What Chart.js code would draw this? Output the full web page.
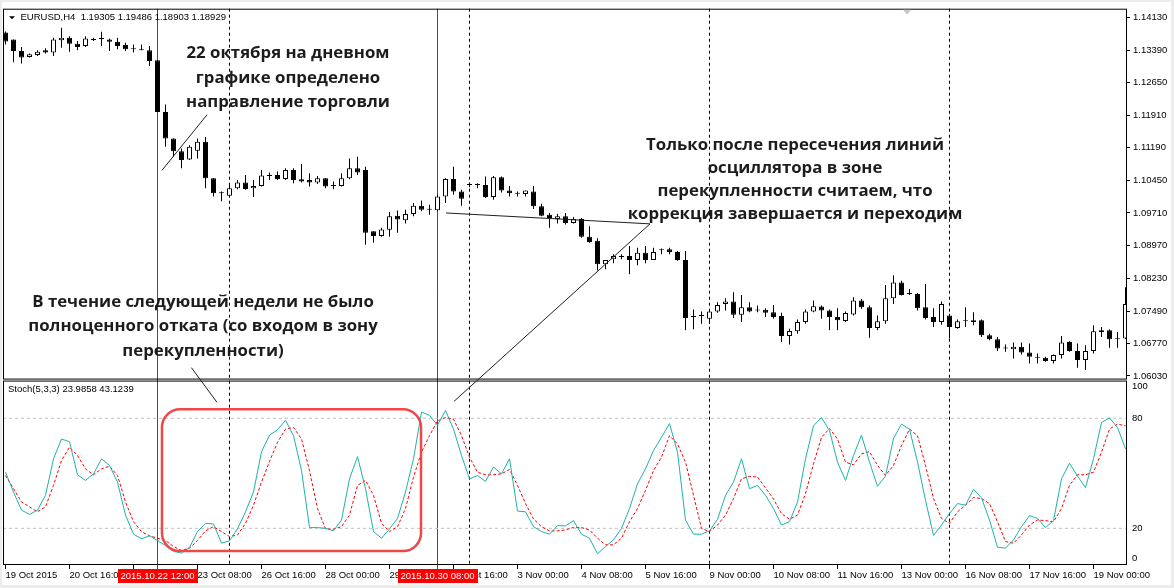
<!DOCTYPE html>
<html>
<head>
<meta charset="utf-8">
<title>EURUSD H4 + Stoch</title>
<script src="https://cdn.jsdelivr.net/npm/chart.js@4.4.1/dist/chart.umd.min.js"></script>
<style>
  html, body { margin: 0; padding: 0; background: #fff; }
  #wrap { width: 1174px; height: 588px; }
</style>
</head>
<body>
<div id="wrap"><canvas id="chart" width="1174" height="588"></canvas></div>
<script>
// ==============================================================
//  EURUSD H4 bars (19 Oct 2015 08:00 -> 19 Nov 2015 16:00)
// ==============================================================

const openP = [
  1.13787, 1.13630, 1.13368, 1.13234, 1.13278, 1.13384, 1.13332, 1.13614, 1.13668, 1.13534,
  1.13480, 1.13625, 1.13641, 1.13630, 1.13578, 1.13502, 1.13428, 1.13384, 1.13384, 1.13160,
  1.11988, 1.11390, 1.11106, 1.10920, 1.11114, 1.11316, 1.10494, 1.10158, 1.10098, 1.10270,
  1.10398, 1.10270, 1.10322, 1.10554, 1.10568, 1.10478, 1.10680, 1.10472, 1.10456, 1.10398,
  1.10494, 1.10322, 1.10322, 1.10494, 1.10718, 1.10680, 1.09296, 1.09188, 1.09329, 1.09650,
  1.09546, 1.09688, 1.09874, 1.09784, 1.09770, 1.10084, 1.10478, 1.10196, 1.10344, 1.10344,
  1.10344, 1.10068, 1.10516, 1.10218, 1.10142, 1.10136, 1.10196, 1.09860, 1.09672, 1.09576,
  1.09636, 1.09486, 1.09576, 1.09172, 1.09083, 1.08552, 1.08664, 1.08718, 1.08740, 1.08650,
  1.08814, 1.08650, 1.08866, 1.08888, 1.08830, 1.08650, 1.07358, 1.07380, 1.07320, 1.07486,
  1.07656, 1.07710, 1.07410, 1.07582, 1.07508, 1.07522, 1.07470, 1.07380, 1.06932, 1.07038,
  1.07246, 1.07486, 1.07598, 1.07508, 1.07358, 1.07268, 1.07418, 1.07732, 1.07582, 1.07112,
  1.07262, 1.07784, 1.08142, 1.07880, 1.07880, 1.07582, 1.07358, 1.07246, 1.07396, 1.07112,
  1.07262, 1.07284, 1.07284, 1.06948, 1.06858, 1.06648, 1.06634, 1.06686, 1.06558, 1.06440,
  1.06440, 1.06366, 1.06500, 1.06798, 1.06590, 1.06388, 1.06590, 1.07060, 1.07060, 1.06858,
  1.06872
];

const highP = [
  1.13809, 1.13630, 1.13458, 1.13310, 1.13384, 1.13428, 1.13668, 1.13892, 1.13704, 1.13592,
  1.13704, 1.13668, 1.13802, 1.13652, 1.13668, 1.13556, 1.13518, 1.13518, 1.13480, 1.13160,
  1.12158, 1.11390, 1.11166, 1.11240, 1.11390, 1.11428, 1.10494, 1.10196, 1.10344, 1.10456,
  1.10568, 1.10456, 1.10680, 1.10622, 1.10644, 1.10718, 1.10718, 1.10814, 1.10606, 1.10546,
  1.10494, 1.10420, 1.10606, 1.10942, 1.10980, 1.10756, 1.09296, 1.09374, 1.09732, 1.09766,
  1.09784, 1.09934, 1.09994, 1.09896, 1.10120, 1.10494, 1.10756, 1.10232, 1.10398, 1.10382,
  1.10532, 1.10546, 1.10532, 1.10322, 1.10196, 1.10218, 1.10322, 1.09918, 1.09710, 1.09694,
  1.09710, 1.09620, 1.09598, 1.09412, 1.09139, 1.08650, 1.08776, 1.08776, 1.08964, 1.08926,
  1.08964, 1.08926, 1.08910, 1.08926, 1.08852, 1.08852, 1.07530, 1.07486, 1.07508, 1.07694,
  1.07784, 1.07918, 1.07858, 1.07694, 1.07620, 1.07560, 1.07634, 1.07454, 1.07096, 1.07306,
  1.07530, 1.07732, 1.07620, 1.07530, 1.07560, 1.07486, 1.07806, 1.07768, 1.07620, 1.07396,
  1.08082, 1.08306, 1.08180, 1.07992, 1.07902, 1.08104, 1.07560, 1.07710, 1.07432, 1.07306,
  1.07582, 1.07470, 1.07306, 1.06984, 1.06910, 1.06738, 1.06782, 1.06782, 1.06760, 1.06536,
  1.06462, 1.06514, 1.06932, 1.06814, 1.06760, 1.06724, 1.07172, 1.07134, 1.07082, 1.07022,
  1.08030
];

const lowP = [
  1.13518, 1.13115, 1.13086, 1.13220, 1.13256, 1.13310, 1.13256, 1.13444, 1.13354, 1.13384,
  1.13458, 1.13592, 1.13480, 1.13368, 1.13406, 1.13368, 1.13332, 1.13384, 1.13032, 1.11988,
  1.11204, 1.10980, 1.10718, 1.10904, 1.10942, 1.10270, 1.10084, 1.09972, 1.10084, 1.10248,
  1.10232, 1.10068, 1.10308, 1.10456, 1.10456, 1.10456, 1.10382, 1.10398, 1.10308, 1.10366,
  1.10270, 1.10248, 1.10308, 1.10472, 1.10568, 1.08993, 1.09038, 1.09172, 1.09172, 1.09262,
  1.09470, 1.09636, 1.09748, 1.09672, 1.09748, 1.09934, 1.10120, 1.09874, 1.10292, 1.10270,
  1.10046, 1.10008, 1.10174, 1.10084, 1.10084, 1.10084, 1.09800, 1.09636, 1.09374, 1.09470,
  1.09448, 1.09470, 1.09150, 1.09038, 1.08411, 1.08440, 1.08574, 1.08664, 1.08328, 1.08530,
  1.08574, 1.08650, 1.08776, 1.08776, 1.08628, 1.07060, 1.07082, 1.07208, 1.07208, 1.07454,
  1.07508, 1.07336, 1.07246, 1.07470, 1.07470, 1.07358, 1.07320, 1.06798, 1.06738, 1.06984,
  1.07208, 1.07470, 1.07320, 1.07060, 1.07060, 1.07246, 1.07396, 1.07544, 1.06894, 1.07060,
  1.07208, 1.07656, 1.07844, 1.07858, 1.07508, 1.07306, 1.07134, 1.07186, 1.06872, 1.07096,
  1.07134, 1.07172, 1.06910, 1.06836, 1.06590, 1.06574, 1.06424, 1.06514, 1.06312, 1.06312,
  1.06350, 1.06312, 1.06424, 1.06574, 1.06216, 1.06164, 1.06536, 1.06910, 1.06664, 1.06664,
  1.06865
];

const closeP = [
  1.13585, 1.13368, 1.13220, 1.13294, 1.13354, 1.13332, 1.13630, 1.13668, 1.13534, 1.13458,
  1.13652, 1.13615, 1.13641, 1.13578, 1.13480, 1.13406, 1.13406, 1.13384, 1.13144, 1.11988,
  1.11390, 1.11106, 1.10904, 1.11204, 1.11316, 1.10494, 1.10158, 1.10158, 1.10270, 1.10398,
  1.10254, 1.10322, 1.10554, 1.10546, 1.10478, 1.10680, 1.10456, 1.10420, 1.10398, 1.10494,
  1.10308, 1.10322, 1.10494, 1.10718, 1.10622, 1.09262, 1.09188, 1.09336, 1.09636, 1.09564,
  1.09688, 1.09874, 1.09784, 1.09784, 1.10084, 1.10478, 1.10196, 1.10030, 1.10344, 1.10344,
  1.10068, 1.10516, 1.10218, 1.10158, 1.10142, 1.10218, 1.09860, 1.09650, 1.09598, 1.09636,
  1.09486, 1.09576, 1.09172, 1.09054, 1.08552, 1.08650, 1.08740, 1.08718, 1.08650, 1.08814,
  1.08650, 1.08830, 1.08866, 1.08830, 1.08650, 1.07336, 1.07358, 1.07380, 1.07486, 1.07634,
  1.07710, 1.07410, 1.07582, 1.07486, 1.07508, 1.07454, 1.07358, 1.06932, 1.07044, 1.07246,
  1.07486, 1.07604, 1.07508, 1.07358, 1.07284, 1.07448, 1.07732, 1.07582, 1.07112, 1.07262,
  1.07784, 1.08142, 1.07858, 1.07880, 1.07560, 1.07336, 1.07246, 1.07656, 1.07134, 1.07262,
  1.07262, 1.07246, 1.06948, 1.06858, 1.06648, 1.06648, 1.06686, 1.06558, 1.06462, 1.06440,
  1.06366, 1.06500, 1.06782, 1.06590, 1.06388, 1.06590, 1.07038, 1.07022, 1.06858, 1.06858,
  1.07656
];

// Stochastic(5,3,3): main (%K) and signal (%D)
const stochMain = [
  50.6, 39.8, 29.9, 27.6, 29.9, 38.0, 57.9, 68.7, 67.2, 49.2,
  46.1, 49.7, 57.9, 54.3, 45.2, 27.2, 16.8, 14.3, 15.9, 13.3,
  10.6, 7.4, 6.5, 9.6, 18.2, 22.7, 22.4, 11.9, 13.2, 19.7,
  29.0, 39.8, 61.8, 70.8, 73.7, 78.9, 70.5, 51.5, 20.4, 20.4,
  20.0, 18.6, 24.5, 47.0, 59.1, 41.6, 18.2, 14.6, 19.7, 25.4,
  39.8, 57.9, 83.4, 81.6, 76.2, 84.3, 74.1, 59.7, 47.0, 48.8,
  45.6, 53.4, 49.7, 57.9, 29.4, 29.0, 20.9, 18.2, 16.8, 21.5,
  21.3, 24.2, 16.8, 14.6, 6.1, 10.1, 13.7, 20.0, 30.8, 44.3,
  52.4, 62.4, 69.6, 77.1, 61.5, 24.5, 16.8, 16.8, 18.6, 24.9,
  38.0, 45.2, 57.9, 41.6, 43.4, 38.0, 30.8, 21.8, 23.6, 34.4,
  57.9, 75.9, 80.4, 73.2, 56.1, 46.1, 59.7, 70.8, 56.1, 42.9,
  48.5, 69.0, 76.8, 74.1, 56.1, 35.3, 16.1, 21.8, 28.1, 33.5,
  32.6, 41.3, 36.6, 24.5, 9.7, 9.2, 13.7, 20.9, 26.9, 25.4,
  20.4, 24.2, 47.0, 55.5, 48.5, 42.2, 57.9, 77.7, 80.2, 75.0,
  63.3
];

const stochSignal = [
  48.8, 41.6, 34.4, 31.7, 29.0, 31.7, 43.4, 57.0, 64.2, 59.7,
  52.4, 49.2, 52.4, 53.9, 48.8, 34.4, 23.6, 18.2, 15.9, 14.6,
  13.3, 10.1, 7.9, 9.2, 13.3, 18.6, 20.9, 18.2, 15.5, 16.4,
  22.7, 32.6, 45.2, 56.4, 66.9, 74.1, 75.0, 68.7, 51.5, 30.8,
  19.7, 19.5, 20.9, 27.2, 43.4, 46.1, 38.0, 22.7, 18.2, 20.9,
  30.8, 47.9, 61.5, 70.5, 78.6, 80.4, 79.5, 70.5, 58.8, 50.6,
  49.2, 49.2, 49.7, 52.1, 43.4, 33.5, 25.1, 20.9, 18.6, 18.6,
  19.1, 20.5, 20.4, 19.1, 14.6, 11.0, 11.0, 14.6, 23.6, 30.8,
  40.7, 51.5, 58.8, 70.5, 66.0, 56.1, 38.0, 20.0, 18.2, 21.8,
  27.2, 36.2, 47.0, 48.3, 48.0, 42.0, 36.0, 28.0, 25.0, 27.2,
  38.9, 55.2, 69.6, 74.4, 68.7, 56.1, 54.6, 60.6, 61.8, 54.3,
  48.8, 54.3, 65.1, 74.1, 70.5, 54.3, 36.2, 25.4, 22.7, 29.0,
  32.6, 36.8, 36.2, 33.5, 23.6, 12.8, 11.9, 16.4, 21.8, 24.5,
  24.2, 23.6, 30.8, 43.4, 49.2, 49.2, 50.6, 61.5, 74.1, 76.8,
  75.9
];

// time axis: one label every 8 bars
const tickBars = [0, 8, 16, 24, 32, 40, 48, 56, 64, 72, 80, 88, 96, 104, 112, 120, 128, 136];
const tickLabels = [
  "19 Oct 2015", "20 Oct 16:00", "22 Oct 00:00", "23 Oct 08:00", "26 Oct 16:00", "28 Oct 00:00",
  "29 Oct 08:00", "30 Oct 16:00", "3 Nov 00:00", "4 Nov 08:00", "5 Nov 16:00", "9 Nov 00:00",
  "10 Nov 08:00", "11 Nov 16:00", "13 Nov 00:00", "16 Nov 08:00", "17 Nov 16:00", "19 Nov 00:00"
];

const priceTicks = [1.06030, 1.06770, 1.07490, 1.08230, 1.08970, 1.09710,
                    1.10450, 1.11190, 1.11910, 1.12650, 1.13390, 1.14130];
const stochTicks = [100, 80, 20, 0];
const stochLevels = [20, 80];

const markerBars = [19, 54];                       // red vertical lines
const markerLabels = ["2015.10.22 12:00", "2015.10.30 08:00"];
const weekBars = [28, 58, 88, 118];                // Monday 00:00 separators

// hand-drawn notes (anchored on bar index / price)
const noteLines = [
  [19.56, 1.10673, 25.19, 1.11928],
  [55.06, 1.09710, 80.56, 1.09464],
  [80.56, 1.09464, 56.06, 1.05454],
  [23.24, 1.06216, 26.44, 1.05432]
];
const noteBox = { fromBar: 19.56, toBar: 51.94, top: 84.9, bottom: 7.6 };   // on stoch scale
const noteTexts = [
  { bar: 35.31, price: 1.13316, step: 24.5,
    lines: ["22 октября на дневном", "графике определено", "направление торговли"] },
  { bar: 98.69, price: 1.11233, step: 23,
    lines: ["Только после пересечения линий", "осциллятора в зоне",
            "перекупленности считаем, что", "коррекция завершается и переходим"] },
  { bar: 24.69, price: 1.07694, step: 24.5,
    lines: ["В течение следующей недели не было", "полноценного отката (со входом в зону",
            "перекупленности)"] }
];

// ==============================================================
//  Chart
// ==============================================================

const X_MIN = -0.3125;
const X_MAX = 140.1875;
const AXIS_FONT = '9.5px "Liberation Sans", Arial, sans-serif';

const candleFill = openP.map((o, i) => closeP[i] > o ? "#ffffff" : "#000000");
const toPoints = (arr) => arr.map((v, i) => ({ x: i, y: v }));

const mt4Frame = {
  id: "mt4Frame",

  beforeDraw(chart) {
    const { ctx, width, height } = chart;
    ctx.save();
    ctx.fillStyle = "#ffffff";
    ctx.fillRect(0, 0, width, height);
    ctx.fillStyle = "#ececec";
    ctx.fillRect(0, 0, width, 2);
    ctx.fillRect(0, 0, 2, height);
    ctx.fillRect(width - 3, 0, 3, height);
    ctx.fillRect(0, height - 3, width, 3);
    ctx.restore();
  },

  beforeDatasetsDraw(chart) {
    const { ctx, chartArea: a, scales: { x } } = chart;
    ctx.save();
    ctx.lineWidth = 1;

    // week separators
    ctx.strokeStyle = "#000000";
    ctx.setLineDash([3, 3]);
    weekBars.forEach(b => {
      const px = Math.floor(x.getPixelForValue(b)) + 0.5;
      ctx.beginPath();
      ctx.moveTo(px, a.top);
      ctx.lineTo(px, a.bottom);
      ctx.stroke();
    });

    // red vertical lines
    ctx.setLineDash([]);
    ctx.strokeStyle = "#ff0000";
    markerBars.forEach(b => {
      const px = Math.floor(x.getPixelForValue(b)) + 0.5;
      ctx.beginPath();
      ctx.moveTo(px, a.top);
      ctx.lineTo(px, a.bottom + 4);
      ctx.stroke();
    });
    ctx.restore();
  },

  afterDraw(chart) {
    const { ctx, chartArea: a, scales: { x, yP, yS } } = chart;
    ctx.save();

    // pane borders
    ctx.strokeStyle = "#000000";
    ctx.lineWidth = 1;
    ctx.strokeRect(a.left + 0.5, yP.top + 0.5, a.right - a.left - 1, yP.bottom - yP.top - 1);
    ctx.strokeRect(a.left + 0.5, yS.top + 1.5, a.right - a.left - 1, yS.bottom - yS.top - 2);

    // headers
    ctx.font = AXIS_FONT;
    ctx.fillStyle = "#000000";
    ctx.textBaseline = "middle";
    ctx.textAlign = "left";
    ctx.fillText("EURUSD,H4  1.19305 1.19486 1.18903 1.18929", a.left + 17.5, yP.top + 9);
    ctx.beginPath();
    ctx.moveTo(a.left + 6, yP.top + 7.5);
    ctx.lineTo(a.left + 12, yP.top + 7.5);
    ctx.lineTo(a.left + 9, yP.top + 10.5);
    ctx.closePath();
    ctx.fill();
    ctx.fillText("Stoch(5,3,3) 23.9858 43.1239", a.left + 5, yS.top + 10);

    // stoch axis labels, kept inside the pane like MT4
    stochTicks.forEach(v => {
      let py = yS.getPixelForValue(v);
      py = Math.min(Math.max(py, yS.top + 7), yS.bottom - 7);
      ctx.fillText(String(v), yS.left + 5, py);
    });

    // chart shift marker
    const sx = x.getPixelForValue(112.7);
    ctx.fillStyle = "#c8c8c8";
    ctx.beginPath();
    ctx.moveTo(sx - 4, yP.top + 1);
    ctx.lineTo(sx + 4, yP.top + 1);
    ctx.lineTo(sx, yP.top + 6);
    ctx.closePath();
    ctx.fill();

    // red time labels on the axis
    ctx.textAlign = "center";
    markerBars.forEach((b, k) => {
      const cx = x.getPixelForValue(b);
      const w = Math.round(ctx.measureText(markerLabels[k]).width + 6);
      ctx.fillStyle = "#ff0000";
      ctx.fillRect(Math.round(cx - w / 2), x.top + 4, w, 14);
      ctx.fillStyle = "#ffffff";
      ctx.fillText(markerLabels[k], cx, x.top + 11.5);
    });

    // hand-drawn lines
    ctx.strokeStyle = "#202020";
    ctx.lineWidth = 1;
    noteLines.forEach(([b1, p1, b2, p2]) => {
      ctx.beginPath();
      ctx.moveTo(x.getPixelForValue(b1), yP.getPixelForValue(p1));
      ctx.lineTo(x.getPixelForValue(b2), yP.getPixelForValue(p2));
      ctx.stroke();
    });

    // rounded frame on the oscillator
    const rx1 = x.getPixelForValue(noteBox.fromBar), rx2 = x.getPixelForValue(noteBox.toBar);
    const ry1 = yS.getPixelForValue(noteBox.top), ry2 = yS.getPixelForValue(noteBox.bottom);
    const r = 18;
    ctx.strokeStyle = "#f04848";
    ctx.lineWidth = 2.5;
    ctx.beginPath();
    ctx.moveTo(rx1 + r, ry1);
    ctx.arcTo(rx2, ry1, rx2, ry2, r);
    ctx.arcTo(rx2, ry2, rx1, ry2, r);
    ctx.arcTo(rx1, ry2, rx1, ry1, r);
    ctx.arcTo(rx1, ry1, rx2, ry1, r);
    ctx.closePath();
    ctx.stroke();

    // comments
    ctx.font = '700 16.8px "Open Sans", "DejaVu Sans", sans-serif';
    ctx.fillStyle = "#1c1c1c";
    ctx.textAlign = "center";
    noteTexts.forEach(n => {
      const cx = x.getPixelForValue(n.bar);
      const y0 = yP.getPixelForValue(n.price);
      n.lines.forEach((t, k) => ctx.fillText(t, cx, y0 + k * n.step));
    });

    ctx.restore();
  }
};

Chart.defaults.font.family = '"Liberation Sans", Arial, sans-serif';
Chart.defaults.color = "#000000";

new Chart(document.getElementById("chart"), {
  type: "bar",
  data: {
    datasets: [
      {
        type: "line", label: "Main", data: toPoints(stochMain), yAxisID: "yS",
        borderColor: "#20b2aa", borderWidth: 1, pointRadius: 0, tension: 0, order: 0
      },
      {
        type: "line", label: "Signal", data: toPoints(stochSignal), yAxisID: "yS",
        borderColor: "#ff0000", borderWidth: 1, borderDash: [3, 2], pointRadius: 0, tension: 0, order: 0
      },
      {
        label: "Body", yAxisID: "yP",
        data: openP.map((o, i) => ({ x: i, y: [o, closeP[i]] })),
        backgroundColor: candleFill, borderColor: "#000000", borderWidth: 1, borderSkipped: false,
        barThickness: 5, minBarLength: 1, grouped: false, inflateAmount: 0, order: 1
      },
      {
        label: "Wick", yAxisID: "yP",
        data: lowP.map((l, i) => ({ x: i, y: [l, highP[i]] })),
        backgroundColor: "#000000", borderWidth: 0,
        barThickness: 1, grouped: false, inflateAmount: 0, order: 2
      },
      ...stochLevels.map(v => ({
        type: "line", label: "Level " + v, yAxisID: "yS",
        data: [{ x: X_MIN, y: v }, { x: X_MAX, y: v }],
        borderColor: "#c0c0c0", borderWidth: 1, borderDash: [3, 3], pointRadius: 0, order: 3
      }))
    ]
  },
  options: {
    responsive: false,
    animation: false,
    events: [],
    layout: { padding: { left: 3, top: 4, right: 0, bottom: 0 } },
    plugins: { legend: { display: false }, tooltip: { enabled: false } },
    scales: {
      x: {
        type: "linear", min: X_MIN, max: X_MAX, offset: false, bounds: "data",
        afterBuildTicks: (s) => { s.ticks = tickBars.map(v => ({ value: v })); },
        afterFit: (s) => { s.height = 23; },
        ticks: {
          autoSkip: false, maxRotation: 0, minRotation: 0, align: "start", padding: 1,
          color: "#000000", font: { size: 9.5 },
          callback: (v) => tickLabels[tickBars.indexOf(v)] || ""
        },
        grid: { drawOnChartArea: false, drawTicks: true, tickLength: 4, color: "#000000", offset: false },
        border: { display: false }
      },
      yP: {
        type: "linear", position: "right", stack: "panes", stackWeight: 2,
        min: 1.05947, max: 1.14324, bounds: "data",
        afterBuildTicks: (s) => { s.ticks = priceTicks.map(v => ({ value: v })); },
        afterFit: (s) => { s.width = 47; },
        ticks: {
          autoSkip: false, padding: 3, color: "#000000", font: { size: 9.5 },
          callback: (v) => Number(v).toFixed(5)
        },
        grid: { drawOnChartArea: false, tickLength: 3, color: "#000000" },
        border: { display: false }
      },
      yS: {
        type: "linear", position: "right", stack: "panes", stackWeight: 1,
        min: 0, max: 101.1, bounds: "data",
        afterFit: (s) => { s.width = 47; },
        ticks: { display: false },
        grid: { display: false },
        border: { display: false }
      }
    }
  },
  plugins: [mt4Frame]
});
</script>
</body>
</html>
